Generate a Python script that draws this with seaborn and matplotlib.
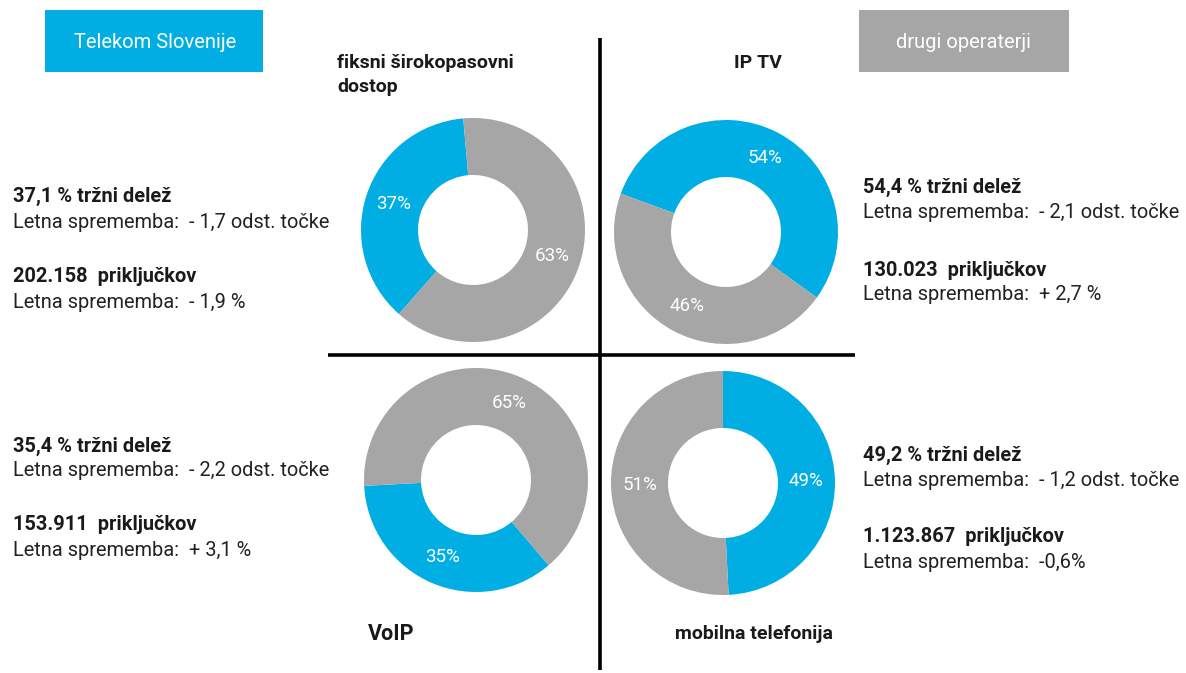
import matplotlib
matplotlib.use("Agg")
import matplotlib.pyplot as plt
import seaborn as sns
from matplotlib.patches import Rectangle

sns.set_theme(style="white")
plt.rcParams['font.family'] = ['Roboto', 'DejaVu Sans']

# ---- data ----
services = ["fiksni širokopasovni\ndostop", "IP TV", "VoIP", "mobilna telefonija"]
telekom_share = [37.1, 54.4, 35.4, 49.2]
other_share = [62.9, 45.6, 64.6, 50.8]
share_text = ["37,1 % tržni delež", "54,4 % tržni delež", "35,4 % tržni delež", "49,2 % tržni delež"]
share_change = ["Letna sprememba:  - 1,7 odst. točke", "Letna sprememba:  - 2,1 odst. točke",
                "Letna sprememba:  - 2,2 odst. točke", "Letna sprememba:  - 1,2 odst. točke"]
conn_text = ["202.158  priključkov", "130.023  priključkov", "153.911  priključkov", "1.123.867  priključkov"]
conn_change = ["Letna sprememba:  - 1,9 %", "Letna sprememba:  + 2,7 %",
               "Letna sprememba:  + 3,1 %", "Letna sprememba:  -0,6%"]
legend_labels = ["Telekom Slovenije", "drugi operaterji"]

BLUE = "#00AEE4"
GRAY = "#A6A6A6"

W, H = 1186, 673
fig = plt.figure(figsize=(W / 100, H / 100), dpi=100)
ax = fig.add_axes([0, 0, 1, 1])

def Y(y):
    return H - y

# layout (image pixel coords)
centers = [(473, 230), (726, 232), (476, 480), (723, 483)]
starts = [95, 160, 183, 90]
ccw = [True, False, True, False]
R = 112
width = 57

for i in range(4):
    cx, cy = centers[i]
    ax.pie(
        [telekom_share[i], other_share[i]],
        colors=[BLUE, GRAY],
        startangle=starts[i], counterclock=ccw[i],
        radius=R, center=(cx, Y(cy)),
        wedgeprops=dict(width=width, edgecolor="none"),
        autopct=lambda p: f"{p:.0f}%", pctdistance=0.745,
        textprops=dict(color="white", fontsize=13.5),
        frame=True,
    )
ax.set_xlim(0, W)
ax.set_ylim(0, H)
ax.set_aspect("equal")
ax.axis("off")

# divider lines
ax.plot([600, 600], [Y(38), Y(670)], color="black", lw=2.6, solid_capstyle="butt")
ax.plot([328, 855], [Y(355), Y(355)], color="black", lw=2.6, solid_capstyle="butt")

# legend boxes
ax.add_patch(Rectangle((45, Y(72)), 218, 62, color=BLUE, lw=0))
ax.add_patch(Rectangle((859, Y(72)), 210, 62, color=GRAY, lw=0))
ax.text(155, Y(43), legend_labels[0], color="white", fontsize=14.5, ha="center", va="center")
ax.text(964, Y(43), legend_labels[1], color="white", fontsize=14.5, ha="center", va="center")

TXT = "#1a1a1a"
# service titles
ax.text(337, Y(75), services[0], fontsize=14, fontweight="bold", ha="left", va="center",
        linespacing=1.45, color=TXT)
ax.text(758, Y(63), services[1], fontsize=14, fontweight="bold", ha="center", va="center", color=TXT)
ax.text(368, Y(634), services[2], fontsize=15.5, fontweight="bold", ha="left", va="center", color=TXT)
ax.text(675, Y(634), services[3], fontsize=14, fontweight="bold", ha="left", va="center", color=TXT)

# text blocks
blocks = [(13, [196, 222, 277, 303]), (863, [187, 213, 270, 295]),
          (13, [446, 470, 525, 551]), (863, [455, 480, 536, 562])]
for i, (x, ys) in enumerate(blocks):
    ax.text(x, Y(ys[0]), share_text[i], fontsize=14.4, fontweight="bold", va="center", color=TXT)
    ax.text(x, Y(ys[1]), share_change[i], fontsize=14.4, va="center", color="#222222")
    ax.text(x, Y(ys[2]), conn_text[i], fontsize=14.4, fontweight="bold", va="center", color=TXT)
    ax.text(x, Y(ys[3]), conn_change[i], fontsize=14.4, va="center", color="#222222")

fig.savefig("out.png", dpi=100, facecolor="white")
